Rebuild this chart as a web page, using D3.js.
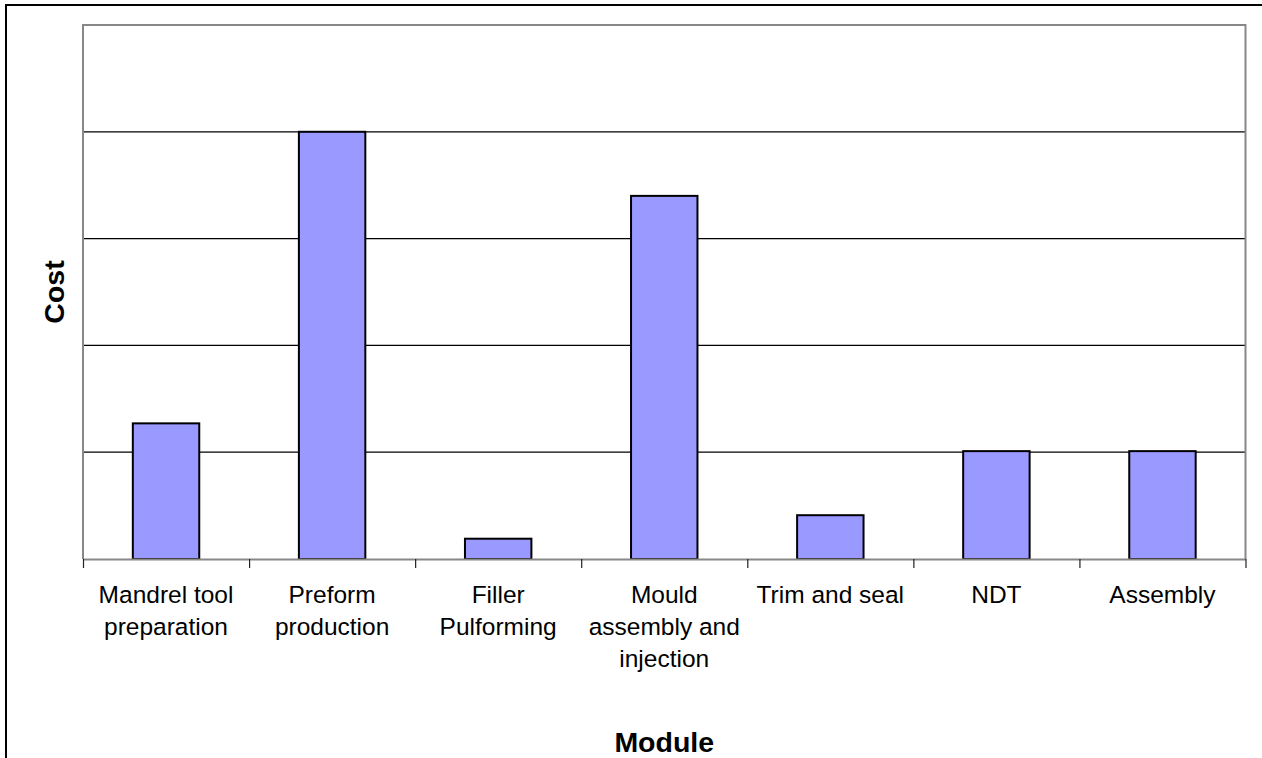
<!DOCTYPE html>
<html>
<head>
<meta charset="utf-8">
<script src="https://cdn.jsdelivr.net/npm/d3@7"></script>
<style>
  html, body { margin: 0; padding: 0; background: #fff; }
  svg { display: block; font-family: "Liberation Sans", Arial, sans-serif; }
</style>
</head>
<body>
<svg id="chart" width="1262" height="758"></svg>
<script>
// Cost per production module
const categories = [
  "Mandrel tool preparation",
  "Preform production",
  "Filler Pulforming",
  "Mould assembly and injection",
  "Trim and seal",
  "NDT",
  "Assembly"
];
const costs = [1.27, 4.0, 0.19, 3.40, 0.41, 1.01, 1.01];
const tickLabelLines = [
  ["Mandrel tool", "preparation"],
  ["Preform", "production"],
  ["Filler", "Pulforming"],
  ["Mould", "assembly and", "injection"],
  ["Trim and seal"],
  ["NDT"],
  ["Assembly"]
];
const gridValues = [1, 2, 3, 4];

const svg = d3.select("#chart");
const plot = { left: 83, top: 25, right: 1245.5, bottom: 559 };

// outer chart frame
svg.append("rect")
  .attr("x", 6).attr("y", 5)
  .attr("width", 1300).attr("height", 800)
  .attr("fill", "#fff")
  .attr("stroke", "#000").attr("stroke-width", 2);

const x = d3.scaleBand()
  .domain(categories)
  .range([plot.left, plot.right])
  .paddingInner(0.6)
  .paddingOuter(0.3);

const y = d3.scaleLinear()
  .domain([0, 5])
  .range([plot.bottom, plot.top]);

// category boundaries for tick marks
const xEdge = d3.scaleLinear()
  .domain([0, categories.length])
  .range([plot.left, plot.right]);

// gridlines
svg.append("g")
  .selectAll("line")
  .data(gridValues)
  .join("line")
  .attr("x1", plot.left).attr("x2", plot.right)
  .attr("y1", d => y(d)).attr("y2", d => y(d))
  .attr("stroke", "#000").attr("stroke-width", 1.2);

// bars
svg.append("g")
  .selectAll("rect")
  .data(categories)
  .join("rect")
  .attr("x", d => x(d))
  .attr("width", x.bandwidth())
  .attr("y", (d, i) => y(costs[i]))
  .attr("height", (d, i) => y(0) - y(costs[i]))
  .attr("fill", "#9999ff")
  .attr("stroke", "#000")
  .attr("stroke-width", 2);

// plot area frame (top, left, right) in gray
svg.append("path")
  .attr("d", `M${plot.left},${plot.bottom}V${plot.top}H${plot.right}V${plot.bottom}`)
  .attr("fill", "none")
  .attr("stroke", "#888")
  .attr("stroke-width", 2);

// x axis with ticks at category boundaries
const xAxis = svg.append("g")
  .attr("transform", `translate(0,${plot.bottom})`)
  .call(d3.axisBottom(xEdge)
    .tickValues(d3.range(0, categories.length + 1))
    .tickSize(9)
    .tickSizeOuter(0)
    .tickFormat(""));
xAxis.select(".domain").attr("stroke", "#888").attr("stroke-width", 2);
xAxis.selectAll(".tick line").attr("stroke", "#222").attr("stroke-width", 1.2);

// category labels
const labels = svg.append("g")
  .attr("font-size", 24.5)
  .attr("fill", "#000")
  .attr("text-anchor", "middle");
categories.forEach((c, i) => {
  const cx = x(c) + x.bandwidth() / 2;
  const t = labels.append("text")
    .attr("x", cx)
    .attr("y", 603);
  tickLabelLines[i].forEach((line, j) => {
    t.append("tspan")
      .attr("x", cx)
      .attr("dy", j === 0 ? 0 : 32)
      .text(line);
  });
});

// axis titles
svg.append("text")
  .attr("x", (plot.left + plot.right) / 2)
  .attr("y", 752)
  .attr("text-anchor", "middle")
  .attr("font-size", 28.5)
  .attr("font-weight", "bold")
  .text("Module");

svg.append("text")
  .attr("transform", `translate(64,${(plot.top + plot.bottom) / 2}) rotate(-90)`)
  .attr("text-anchor", "middle")
  .attr("font-size", 28.5)
  .attr("font-weight", "bold")
  .text("Cost");
</script>
</body>
</html>
